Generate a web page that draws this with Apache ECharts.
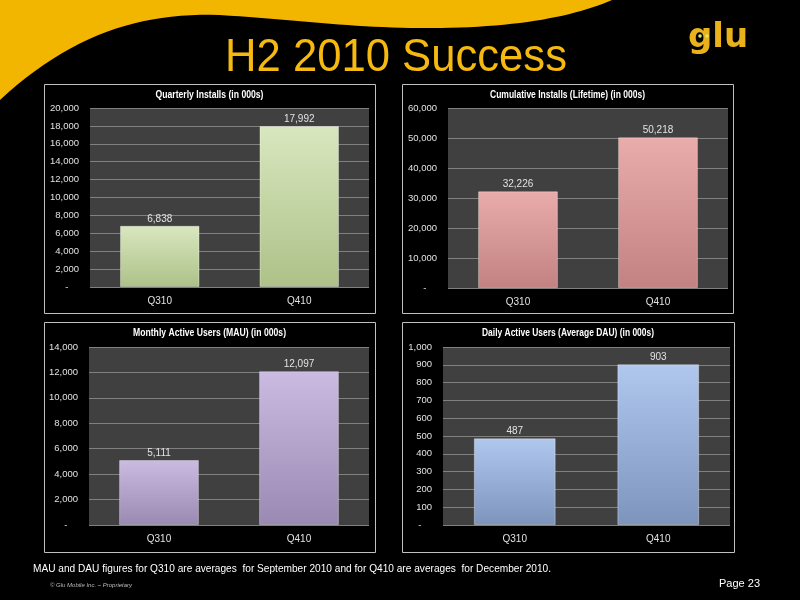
<!DOCTYPE html>
<html>
<head>
<meta charset="utf-8">
<script src="https://cdn.jsdelivr.net/npm/echarts@6/dist/echarts.min.js"></script>
<style>
  html,body{margin:0;padding:0;background:#000;}
  #chart{width:800px;height:600px;}
</style>
</head>
<body>
<div id="chart"></div>
<script>
// ---- data ----
const categories = ['Q310', 'Q410'];
const quarterlyInstalls = [6838, 17992];
const cumulativeInstalls = [32226, 50218];
const monthlyActiveUsers = [5111, 12097];
const dailyActiveUsers = [487, 903];

const panelTitles = [
  'Quarterly Installs (in 000s)',
  'Cumulative Installs (Lifetime) (in 000s)',
  'Monthly Active Users (MAU) (in 000s)',
  'Daily Active Users (Average DAU) (in 000s)'
];
const axisMax = [20000, 60000, 14000, 1000];
const axisStep = [2000, 10000, 2000, 100];

const mainTitle = 'H2 2010 Success';
const footnote = 'MAU and DAU figures for Q310 are averages  for September 2010 and for Q410 are averages  for December 2010.';
const copyright = '\u00A9 Glu Mobile Inc. \u2013 Proprietary';
const pageLabel = 'Page 23';

// ---- layout / style ----
const seriesData = [quarterlyInstalls, cumulativeInstalls, monthlyActiveUsers, dailyActiveUsers];
const grids = [
  {left: 90, top: 108, width: 279, height: 179},
  {left: 448, top: 108, width: 280, height: 180},
  {left: 89, top: 347, width: 280, height: 178},
  {left: 443, top: 347, width: 287, height: 178}
];
const panels = [
  {x: 44, y: 84, w: 331, h: 229, ty: 95, tw: 108},
  {x: 402, y: 84, w: 331, h: 229, ty: 95, tw: 155},
  {x: 44, y: 322, w: 331, h: 230, ty: 333, tw: 153},
  {x: 402, y: 322, w: 332, h: 230, ty: 333, tw: 172}
];
const barColors = [
  ['#d9e7bf', '#adc188'],
  ['#eaabab', '#c28282'],
  ['#cbbbe2', '#9a8ab3'],
  ['#b0c8ee', '#7d94bd']
];
const labelColor = '#e2e2e2';

const measureCtx = document.createElement('canvas').getContext('2d');
function fitScale(text, font, target) {
  measureCtx.font = font;
  const w = measureCtx.measureText(text).width;
  return w > 0 ? target / w : 1;
}
function fmt(v) {
  return v === 0 ? '-    ' : v.toLocaleString('en-US');
}
// sample cubic bezier segments into polygon points (decorative background shape)
function bezierPoints(start, segs, n) {
  const pts = [start];
  let p0 = start;
  segs.forEach(s => {
    const [c1, c2, p3] = s;
    for (let k = 1; k <= n; k++) {
      const t = k / n, u = 1 - t;
      pts.push([
        u*u*u*p0[0] + 3*u*u*t*c1[0] + 3*u*t*t*c2[0] + t*t*t*p3[0],
        u*u*u*p0[1] + 3*u*u*t*c1[1] + 3*u*t*t*c2[1] + t*t*t*p3[1]
      ]);
    }
    p0 = p3;
  });
  return pts;
}

const chart = echarts.init(document.getElementById('chart'));

const xAxis = [], yAxis = [], series = [];
grids.forEach((g, i) => {
  xAxis.push({
    type: 'category', gridIndex: i, data: categories,
    axisLine: {show: false}, axisTick: {show: false},
    axisLabel: {color: labelColor, fontSize: 10, margin: 9, fontFamily: 'Liberation Sans, Arial, sans-serif'}
  });
  yAxis.push({
    type: 'value', gridIndex: i, min: 0, max: axisMax[i], interval: axisStep[i],
    axisLine: {show: false}, axisTick: {show: false},
    splitLine: {lineStyle: {color: '#808080', width: 1}},
    axisLabel: {color: labelColor, fontSize: 9.5, margin: 11, formatter: fmt, fontFamily: 'Liberation Sans, Arial, sans-serif'}
  });
  series.push({
    type: 'bar', xAxisIndex: i, yAxisIndex: i, data: seriesData[i],
    barCategoryGap: '43%',
    itemStyle: {
      color: {type: 'linear', x: 0, y: 0, x2: 0, y2: 1, colorStops: [
        {offset: 0, color: barColors[i][0]},
        {offset: 1, color: barColors[i][1]}
      ]},
      borderColor: 'rgba(255,255,255,0.35)', borderWidth: 1
    },
    label: {
      show: true, position: 'top', distance: 2, color: labelColor, fontSize: 10,
      fontFamily: 'Liberation Sans, Arial, sans-serif',
      formatter: p => p.value.toLocaleString('en-US')
    }
  });
});

const graphics = [];
// yellow swoosh
const swoosh = [[0, 0]].concat(bezierPoints([612, 0], [
  [[575, 16], [520, 27], [440, 28]],
  [[360, 29], [300, 20], [220, 15]],
  [[140, 12], [70, 35], [0, 100]]
], 24));
graphics.push({
  type: 'polygon', z: -5,
  shape: {points: swoosh},
  style: {fill: '#f3b600'}
});
// panel borders and titles
const titleFont = 'bold 11px "Liberation Sans", Arial, sans-serif';
panels.forEach((p, i) => {
  graphics.push({
    type: 'rect', z: 1,
    shape: {x: p.x + 0.5, y: p.y + 0.5, width: p.w, height: p.h},
    style: {fill: 'none', stroke: '#c0c0c0', lineWidth: 1}
  });
  graphics.push({
    type: 'text', z: 10, x: p.x + p.w / 2, y: p.ty,
    scaleX: fitScale(panelTitles[i], titleFont, p.tw),
    style: {text: panelTitles[i], fill: '#ffffff', font: titleFont, textAlign: 'center', textVerticalAlign: 'middle'}
  });
});
// main title
const mainFont = '46px "Liberation Sans", Arial, sans-serif';
graphics.push({
  type: 'text', z: 10, x: 396, y: 58,
  scaleX: fitScale(mainTitle, mainFont, 342),
  style: {text: mainTitle, fill: '#f5b90f', font: mainFont, textAlign: 'center', textVerticalAlign: 'middle'}
});
// logo
graphics.push({
  type: 'text', z: 10, x: 718, y: 38,
  style: {text: 'glu', fill: '#e9b21a', font: 'bold 34px "DejaVu Sans", sans-serif', textAlign: 'center', textVerticalAlign: 'middle'}
});
graphics.push({type: 'circle', z: 11, shape: {cx: 700, cy: 36, r: 1.8}, style: {fill: '#d8e870'}});
graphics.push({type: 'circle', z: 11, shape: {cx: 707, cy: 36, r: 1.8}, style: {fill: '#d8e870'}});
// footer
const footFont = '11px "Liberation Sans", Arial, sans-serif';
graphics.push({
  type: 'text', z: 10, x: 33, y: 569,
  scaleX: fitScale(footnote, footFont, 518),
  style: {text: footnote, fill: '#ffffff', font: footFont, textAlign: 'left', textVerticalAlign: 'middle'}
});
graphics.push({
  type: 'text', z: 10, x: 50, y: 585,
  style: {text: copyright, fill: '#bbbbbb', font: 'italic 6px "Liberation Sans", Arial, sans-serif', textAlign: 'left', textVerticalAlign: 'middle'}
});
graphics.push({
  type: 'text', z: 10, x: 760, y: 584,
  style: {text: pageLabel, fill: '#ffffff', font: '11px "Liberation Sans", Arial, sans-serif', textAlign: 'right', textVerticalAlign: 'middle'}
});

chart.setOption({
  backgroundColor: '#000000',
  animation: false,
  grid: grids.map(g => Object.assign({show: true, backgroundColor: '#404040', borderWidth: 0, containLabel: false}, g)),
  xAxis, yAxis, series,
  graphic: {elements: graphics}
});
</script>
</body>
</html>
